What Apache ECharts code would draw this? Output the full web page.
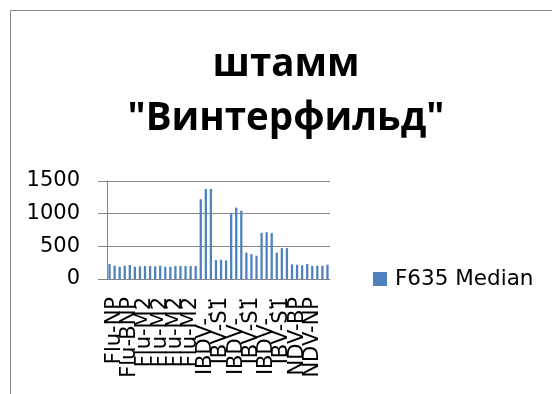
<!DOCTYPE html>
<html>
<head>
<meta charset="utf-8">
<script src="https://cdn.jsdelivr.net/npm/echarts@6/dist/echarts.min.js"></script>
<style>
  html, body { margin: 0; padding: 0; background: #fff; }
  #chart { width: 552px; height: 394px; }
</style>
</head>
<body>
<div id="chart"></div>
<script>
// categories, three spots per probe
var categories = [
  'Flu-NP', 'Flu-NP', 'Flu-NP',
  'Flu-BNP', 'Flu-BNP', 'Flu-BNP',
  'Flu-M2', 'Flu-M2', 'Flu-M2',
  'Flu-M2', 'Flu-M2', 'Flu-M2',
  'Flu-M2', 'Flu-M2', 'Flu-M2',
  'Flu-M2', 'Flu-M2', 'Flu-M2',
  'IBDV-VP2', 'IBDV-VP2', 'IBDV-VP2',
  'IBV-S1', 'IBV-S1', 'IBV-S1',
  'IBDV-VP2', 'IBDV-VP2', 'IBDV-VP2',
  'IBV-S1', 'IBV-S1', 'IBV-S1',
  'IBDV-VP2', 'IBDV-VP2', 'IBDV-VP2',
  'IBV-S1', 'IBV-S1', 'IBV-S1',
  'NDV-BP', 'NDV-BP', 'NDV-BP',
  'NDV-NP', 'NDV-NP', 'NDV-NP',
  'NDV-NP', 'NDV-NP'
];

var f635Median = [
  229, 203, 188, 203, 214, 188, 193, 198, 198, 193, 203, 188,
  188, 198, 198, 198, 198, 198, 1220, 1378, 1378, 290, 295, 285,
  997, 1093, 1047, 402, 381, 356, 707, 717, 702, 402, 473, 473,
  224, 219, 208, 229, 198, 203, 203, 219
];

var yTicks = [0, 500, 1000, 1500];

var seriesName = 'F635 Median';
var titleText = 'штамм\n"Винтерфильд"';

var chart = echarts.init(document.getElementById('chart'));

var gray = '#868686';
var labelFont = 'DejaVu Sans';
var lastIdx = categories.length - 1;

chart.setOption({
  animation: false,
  title: {
    text: titleText,
    left: 286,
    top: 38,
    textAlign: 'center',
    padding: 0,
    textStyle: {
      fontFamily: 'Open Sans',
      fontWeight: 'bold',
      fontSize: 38.5,
      lineHeight: 54,
      color: '#000'
    }
  },
  legend: {
    data: [seriesName],
    left: 373,
    top: 268,
    padding: 0,
    itemWidth: 14,
    itemHeight: 14,
    icon: 'rect',
    textStyle: {
      fontFamily: labelFont,
      fontSize: 21.5,
      color: '#000',
      padding: [0, 0, 0, 3]
    }
  },
  graphic: [{
    type: 'rect',
    shape: { x: 10.5, y: 10.5, width: 600, height: 500 },
    style: { fill: 'none', stroke: gray, lineWidth: 1 },
    silent: true
  }],
  grid: {
    left: 107,
    right: 222,
    top: 181,
    bottom: 115
  },
  xAxis: {
    type: 'category',
    data: categories,
    axisLine: { lineStyle: { color: gray } },
    axisTick: {
      interval: 0,
      length: 7,
      lineStyle: { color: gray }
    },
    axisLabel: {
      // first and last slots are placeholders, dropped by showMin/MaxLabel
      interval: function (idx) {
        return idx === 0 || idx === lastIdx || (idx % 3 === 1 && idx < lastIdx);
      },
      hideOverlap: false,
      showMinLabel: false,
      showMaxLabel: false,
      rotate: 90,
      margin: 18,
      fontFamily: labelFont,
      fontSize: 21,
      color: '#000',
      width: 84,
      overflow: 'truncate',
      ellipsis: '…'
    }
  },
  yAxis: {
    type: 'value',
    min: yTicks[0],
    max: yTicks[yTicks.length - 1],
    interval: 500,
    axisLine: { show: true, lineStyle: { color: gray } },
    axisTick: { show: true, length: 9, lineStyle: { color: gray } },
    splitLine: { lineStyle: { color: gray, width: 1 } },
    axisLabel: {
      margin: 27,
      fontFamily: labelFont,
      fontSize: 21,
      color: '#000',
      formatter: function (v) { return String(v); }
    }
  },
  series: [{
    name: seriesName,
    type: 'bar',
    data: f635Median,
    barWidth: '45%',
    itemStyle: { color: '#4F81BD' }
  }]
});
</script>
</body>
</html>
